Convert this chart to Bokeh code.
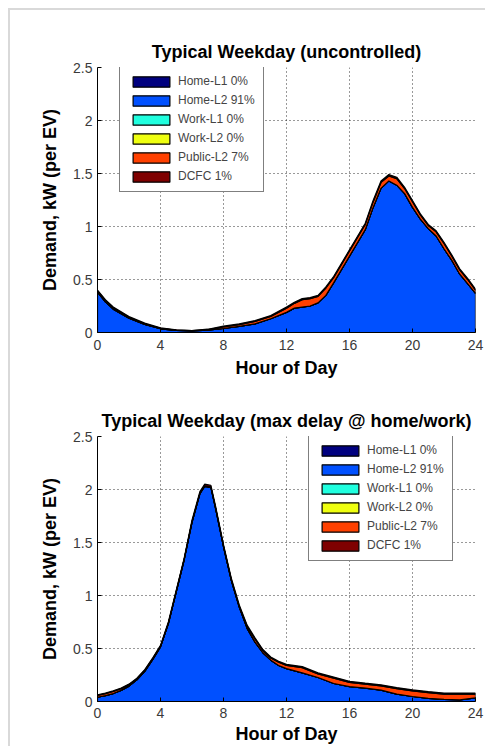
import numpy as np
from bokeh.plotting import figure
from bokeh.models import Range1d, FixedTicker, Legend, LegendItem
from bokeh.layouts import column
from bokeh.embed import file_html
from bokeh.resources import INLINE

categories = ["Home-L1 0%", "Home-L2 91%", "Work-L1 0%", "Work-L2 0%", "Public-L2 7%", "DCFC 1%"]
colors = ["#00007f", "#0050ff", "#20ffdf", "#efff10", "#ff4000", "#7f0000"]

x_ticks = [0, 4, 8, 12, 16, 20, 24]
y_ticks = [0, 0.5, 1, 1.5, 2, 2.5]

# ---- Typical Weekday (uncontrolled) ----
top_hours = [0, 0.5, 1, 2, 3, 4, 5, 6, 7, 8, 9, 10, 11, 12, 12.5, 13, 13.5, 14, 14.5, 15,
             16, 17, 17.5, 18, 18.5, 19, 19.5, 20, 20.5, 21, 21.5, 22, 22.5, 23, 23.5, 24]
top_home_l1 = [0, 0, 0, 0, 0, 0, 0, 0, 0, 0, 0, 0, 0, 0, 0, 0, 0, 0, 0, 0,
               0, 0, 0, 0, 0, 0, 0, 0, 0, 0, 0, 0, 0, 0, 0, 0]
top_home_l2 = [0.38, 0.29, 0.22, 0.135, 0.076, 0.035, 0.02, 0.014, 0.022, 0.038,
               0.057, 0.082, 0.13, 0.19, 0.23, 0.24, 0.25, 0.28, 0.35, 0.47,
               0.72, 0.97, 1.18, 1.36, 1.43, 1.39, 1.31, 1.18, 1.07, 0.98,
               0.91, 0.79, 0.68, 0.55, 0.46, 0.37]
top_work_l1 = [0, 0, 0, 0, 0, 0, 0, 0, 0, 0, 0, 0, 0, 0, 0, 0, 0, 0, 0, 0,
               0, 0, 0, 0, 0, 0, 0, 0, 0, 0, 0, 0, 0, 0, 0, 0]
top_work_l2 = [0, 0, 0, 0, 0, 0, 0, 0, 0, 0, 0, 0, 0, 0, 0, 0, 0, 0, 0, 0,
               0, 0, 0, 0, 0, 0, 0, 0, 0, 0, 0, 0, 0, 0, 0, 0]
top_public_l2 = [0.012, 0.012, 0.012, 0.008, 0.006, 0.005, 0.003, 0.003, 0.005, 0.014,
                 0.017, 0.022, 0.022, 0.04, 0.045, 0.07, 0.07, 0.06, 0.07, 0.05,
                 0.05, 0.05, 0.052, 0.056, 0.046, 0.062, 0.048, 0.053, 0.04, 0.03,
                 0.04, 0.05, 0.04, 0.04, 0.04, 0.03]
top_dcfc = [0.008, 0.008, 0.008, 0.007, 0.006, 0.004, 0.002, 0.002, 0.004, 0.008,
            0.008, 0.009, 0.008, 0.01, 0.01, 0.01, 0.01, 0.01, 0.01, 0.01,
            0.01, 0.01, 0.013, 0.014, 0.014, 0.013, 0.012, 0.012, 0.01, 0.01,
            0.01, 0.01, 0.01, 0.01, 0.01, 0.01]

# ---- Typical Weekday (max delay @ home/work) ----
bot_hours = [0, 0.5, 1, 1.5, 2, 2.5, 3, 3.5, 4, 4.5, 5, 5.5, 6, 6.5, 6.8, 7.2, 7.5, 8, 8.5, 9,
             9.5, 10, 10.5, 11, 11.5, 12, 13, 14, 15, 16, 17, 18, 19, 20, 21, 22, 23, 24]
bot_home_l1 = [0, 0, 0, 0, 0, 0, 0, 0, 0, 0, 0, 0, 0, 0, 0, 0, 0, 0, 0, 0,
               0, 0, 0, 0, 0, 0, 0, 0, 0, 0, 0, 0, 0, 0, 0, 0, 0, 0]
bot_home_l2 = [0.04, 0.055, 0.075, 0.105, 0.145, 0.205, 0.285, 0.395, 0.515, 0.735,
               1.035, 1.335, 1.69, 1.96, 2.03, 2.02, 1.82, 1.46, 1.14, 0.89,
               0.69, 0.56, 0.46, 0.39, 0.34, 0.31, 0.27, 0.226, 0.17, 0.14,
               0.127, 0.107, 0.07, 0.047, 0.03, 0.02, 0.015, 0.035]
bot_work_l1 = [0, 0, 0, 0, 0, 0, 0, 0, 0, 0, 0, 0, 0, 0, 0, 0, 0, 0, 0, 0,
               0, 0, 0, 0, 0, 0, 0, 0, 0, 0, 0, 0, 0, 0, 0, 0, 0, 0]
bot_work_l2 = [0, 0, 0, 0, 0, 0, 0, 0, 0, 0, 0, 0, 0, 0, 0, 0, 0, 0, 0, 0,
               0, 0, 0, 0, 0, 0, 0, 0, 0, 0, 0, 0, 0, 0, 0, 0, 0, 0]
bot_public_l2 = [0.018, 0.019, 0.02, 0.016, 0.014, 0.01, 0.01, 0.009, 0.009, 0.007,
                 0.005, 0.005, 0.008, 0.006, 0.005, 0.005, 0.006, 0.008, 0.01, 0.01,
                 0.02, 0.03, 0.02, 0.02, 0.03, 0.03, 0.05, 0.034, 0.05, 0.04,
                 0.036, 0.04, 0.052, 0.053, 0.054, 0.05, 0.055, 0.035]
bot_dcfc = [0.005, 0.005, 0.005, 0.005, 0.005, 0.005, 0.005, 0.006, 0.006, 0.008,
            0.01, 0.01, 0.012, 0.014, 0.015, 0.015, 0.014, 0.012, 0.01, 0.01,
            0.01, 0.01, 0.01, 0.01, 0.01, 0.01, 0.01, 0.01, 0.01, 0.01,
            0.01, 0.01, 0.01, 0.01, 0.01, 0.01, 0.01, 0.01]

FONT = "Liberation Sans"


def make_fig(title, hours, series, legend_loc, border_top, border_bottom,
             tick_standoff, label_standoff):
    p = figure(frame_width=378, frame_height=265, output_backend="svg",
               toolbar_location=None, x_range=Range1d(0, 24), y_range=Range1d(0, 2.5),
               min_border_left=87, min_border_right=10, min_border_top=border_top,
               min_border_bottom=border_bottom, background_fill_color="white",
               border_fill_color="white", outline_line_color=None)
    p.title.text = title
    p.title.text_font = FONT
    p.title.text_font_size = "18px"
    p.title.text_font_style = "bold"
    p.title.text_color = "black"
    p.title.align = "center"
    p.title.standoff = 11

    hrs = np.array(hours, dtype=float)
    data = np.array(series, dtype=float)
    upper = np.cumsum(data, axis=0)
    lower = upper - data
    items = []
    for i, cat in enumerate(categories):
        xs = np.concatenate([hrs, hrs[::-1]])
        ys = np.concatenate([upper[i], lower[i][::-1]])
        r = p.patch(xs, ys, fill_color=colors[i], line_color="black", line_width=1.2)
        items.append(LegendItem(label=cat, renderers=[r]))

    for ax in (p.xaxis[0], p.yaxis[0]):
        ax.axis_line_color = "black"
        ax.major_tick_line_color = "black"
        ax.major_tick_in = 4
        ax.major_tick_out = 0
        ax.minor_tick_line_color = None
        ax.major_label_text_font = FONT
        ax.major_label_text_font_size = "14px"
        ax.major_label_text_color = "#3a3a3a"
        ax.axis_label_text_font = FONT
        ax.axis_label_text_font_style = "bold"
        ax.axis_label_text_color = "black"
    p.xaxis.ticker = FixedTicker(ticks=x_ticks)
    p.yaxis.ticker = FixedTicker(ticks=y_ticks)
    p.yaxis.major_label_overrides = {0: "0", 1: "1", 2: "2"}
    p.xaxis.axis_label = "Hour of Day"
    p.yaxis.axis_label = "Demand, kW (per EV)"
    p.xaxis.axis_label_text_font_size = "18px"
    p.yaxis.axis_label_text_font_size = "18px"
    p.xaxis.major_label_standoff = tick_standoff
    p.yaxis.major_label_standoff = 5
    p.xaxis.axis_label_standoff = label_standoff
    p.yaxis.axis_label_standoff = 10

    p.grid.grid_line_color = "black"
    p.grid.grid_line_dash = "1 3"
    p.grid.grid_line_alpha = 0.8

    legend = Legend(items=items, location=legend_loc)
    legend.border_line_color = "black"
    legend.border_line_width = 1
    legend.background_fill_color = "white"
    legend.background_fill_alpha = 1
    legend.label_text_font = FONT
    legend.label_text_font_size = "12px"
    legend.glyph_width = 46
    legend.glyph_height = 13
    legend.label_height = 13
    legend.spacing = 5
    legend.padding = 8
    legend.margin = 0
    legend.label_standoff = 4
    p.add_layout(legend)
    return p


p1 = make_fig("Typical Weekday (uncontrolled)", top_hours,
              [top_home_l1, top_home_l2, top_work_l1, top_work_l2, top_public_l2, top_dcfc],
              (22, 140), 57, 48, 7, 5)
p2 = make_fig("Typical Weekday (max delay @ home/work)", bot_hours,
              [bot_home_l1, bot_home_l2, bot_work_l1, bot_work_l2, bot_public_l2, bot_dcfc],
              (211, 140), 56, 40, 6, 3)

layout = column(p1, p2, spacing=0, margin=(8, 0, 0, 8),
                styles={"border-left": "2px solid #d9d9d9", "border-top": "2px solid #d9d9d9"})

open("out.html", "w").write(file_html(layout, INLINE))
